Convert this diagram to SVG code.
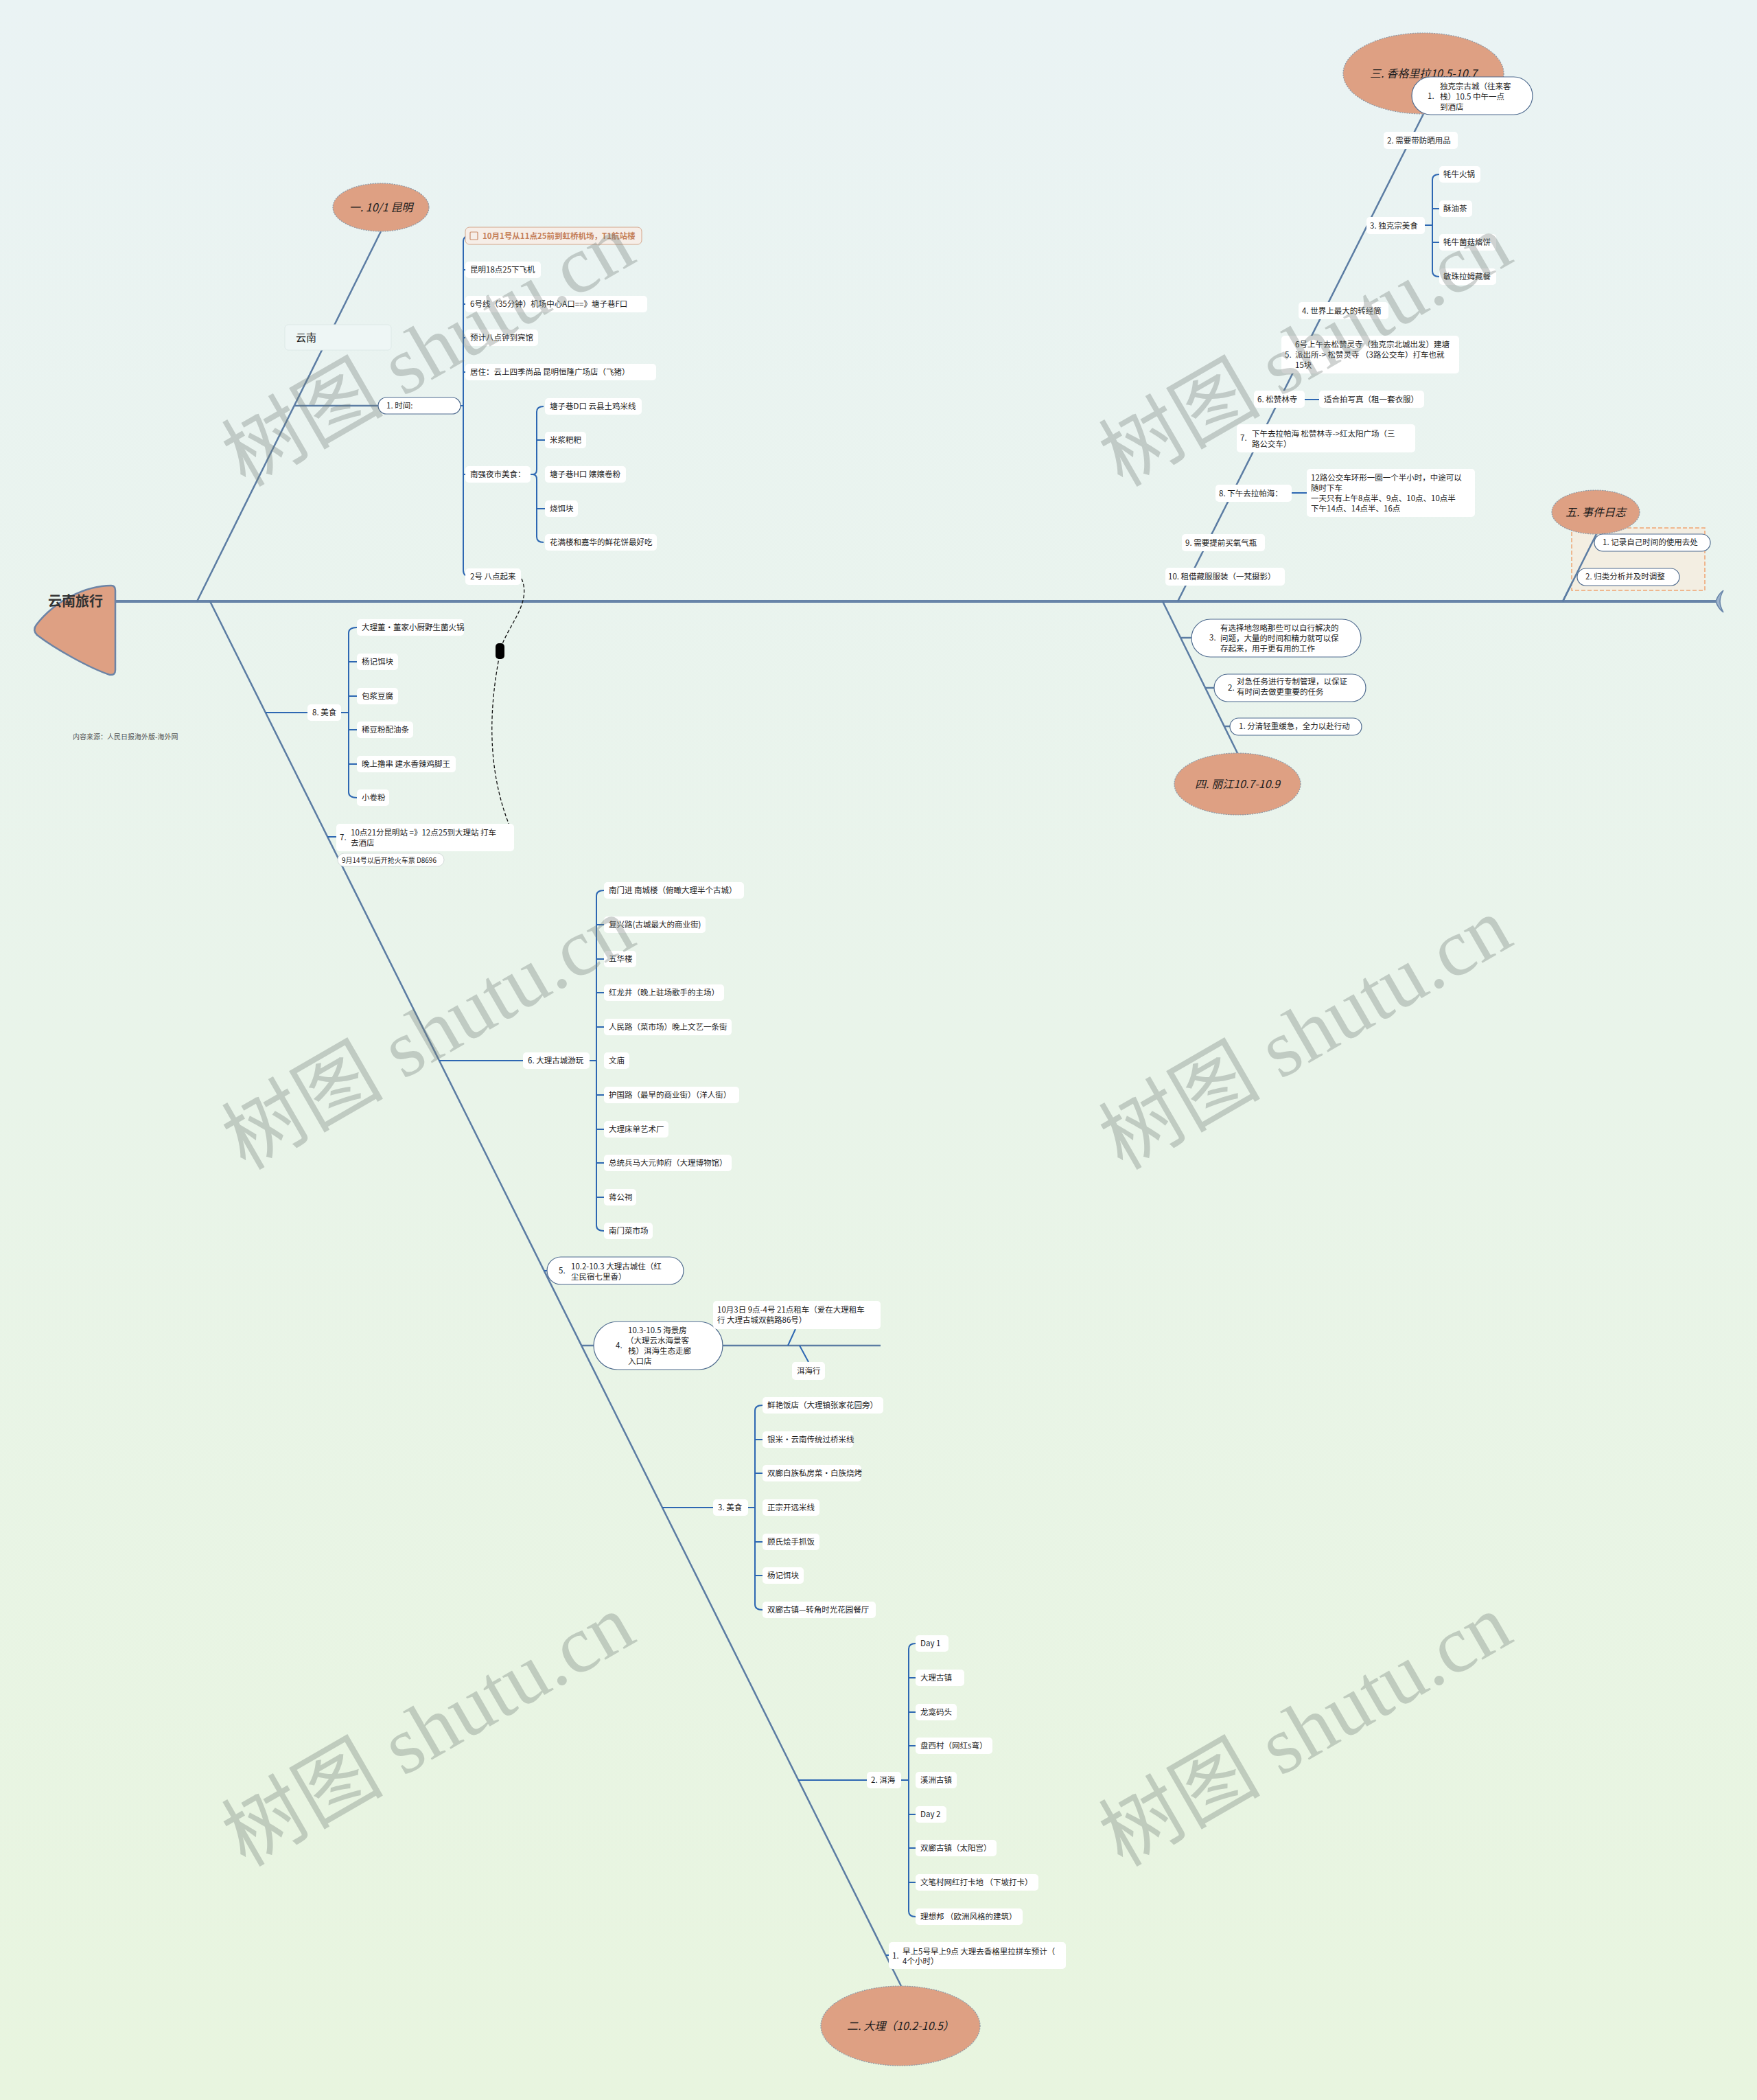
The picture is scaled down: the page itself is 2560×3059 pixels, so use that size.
<svg xmlns="http://www.w3.org/2000/svg" width="2560" height="3059" viewBox="0 0 2560 3059">
<defs>
<linearGradient id="bg" x1="0" y1="0" x2="0" y2="1">
<stop offset="0" stop-color="#eaf3f4"/>
<stop offset="1" stop-color="#e8f5df"/>
</linearGradient>
<marker id="arr" viewBox="0 0 10 10" refX="8" refY="5" markerWidth="7" markerHeight="7" orient="auto">
<path d="M0 1 L9 5 L0 9 Z" fill="#111"/>
</marker>
<style>
.bone{stroke:#5b7ca3;stroke-width:2.5;fill:none}
.br{stroke:#2d67b2;stroke-width:2;fill:none}
.box{fill:#ffffff}
.pill{fill:#ffffff;stroke:#4f6b8f;stroke-width:1.2}
.ell{fill:#dea083;stroke:#8d99a6;stroke-width:1.2;stroke-dasharray:2 1.5}
.t{font-family:"Noto Sans CJK SC","Noto Sans",sans-serif;font-size:11.5px;fill:#1c1c1c}
.et{font-family:"Noto Sans CJK SC","Noto Sans",sans-serif;font-size:16px;font-style:italic;fill:#1c1c1c;text-anchor:middle}
.wm{font-family:"Liberation Serif","Noto Sans CJK SC",serif;font-size:118px;fill:#6f7a75;opacity:0.33;text-anchor:middle}
</style>
</defs>
<rect x="0" y="0" width="2560" height="3059" fill="url(#bg)"/>

<g id="connectors">
<!-- spine -->
<path d="M168 876 H2502" stroke="#6784a8" stroke-width="4" fill="none"/>
<path d="M2500 876 Q2503 866 2511 860 Q2506 869 2506 876 Q2506 883 2511 892 Q2503 886 2500 876 Z" fill="#9cb2cc" stroke="#6784a8" stroke-width="1.5"/>
<!-- bones -->
<path class="bone" d="M555 337 L287 876"/>
<path class="bone" d="M306 876 L1313 2893"/>
<path class="bone" d="M2074 166 L1716 876"/>
<path class="bone" d="M1694 876 L1803 1097"/>
<path class="bone" d="M2277 876 L2326 778"/>
<!-- Kunming -->
<path class="bone" d="M428 591 H551"/>
<path class="br" d="M671 591 H675 M686 343 Q675 343 675 352 V831 Q675 840 686 840 M675 393 H678 M675 443 H678 M675 492 H678 M675 542 H678 M675 691 H678"/>
<path class="br" d="M773 691 H777 M792 592 Q782 592 782 600 V684 Q782 691 776 691 Q782 691 782 698 V782 Q782 790 792 790 M782 641 H794 M782 741 H794"/>
<!-- Dali -->
<path class="br" d="M387 1038 H448 M497 1038 H508 M520 914 Q508 914 508 922 V1154 Q508 1162 520 1162 M508 964 H520 M508 1014 H520 M508 1063 H520 M508 1113 H520"/>
<path class="br" d="M477 1219 H490"/>
<path class="br" d="M640 1545 H762 M859 1545 H869 M880 1297 Q869 1297 869 1305 V1785 Q869 1793 880 1793 M869 1347 H880 M869 1397 H880 M869 1446 H880 M869 1496 H880 M869 1595 H880 M869 1645 H880 M869 1694 H880 M869 1744 H880"/>
<path class="br" d="M793 1851 H797"/>
<path class="bone" d="M847 1960 H865 M1053 1960 H1283"/>
<path class="br" d="M1148 1960 L1159 1936 M1165 1960 L1178 1984"/>
<path class="br" d="M965 2196 H1039 M1090 2196 H1100 M1111 2047 Q1100 2047 1100 2055 V2337 Q1100 2345 1111 2345 M1100 2097 H1111 M1100 2146 H1111 M1100 2246 H1111 M1100 2295 H1111"/>
<path class="br" d="M1163 2593 H1263 M1313 2593 H1324 M1334 2394 Q1324 2394 1324 2402 V2784 Q1324 2792 1334 2792 M1324 2444 H1334 M1324 2494 H1334 M1324 2543 H1334 M1324 2643 H1334 M1324 2692 H1334 M1324 2742 H1334"/>
<path class="br" d="M1291 2848 H1296"/>
<!-- Shangri-La -->
<path class="br" d="M2076 328 H2087 M2097 254 Q2087 254 2087 262 V395 Q2087 403 2097 403 M2087 304 H2097 M2087 353 H2097"/>
<path class="br" d="M1901 582 H1922 M1882 718 H1904"/>
<!-- Lijiang -->
<path class="bone" d="M1720 929 H1736 M1756 1002 H1769 M1783 1058 H1792"/>
<!-- relationship -->
<path d="M760 843 C776 880 736 915 729 948 C719 1000 700 1110 748 1216" fill="none" stroke="#111" stroke-width="1.3" stroke-dasharray="5 3" marker-end="url(#arr)"/>
<rect x="722" y="937" width="13" height="23" rx="5" fill="#000"/>
</g>

<g id="root">
<path d="M162 853 Q168 853 168 860 L168 976 Q168 984 160 983 C130 973 80 945 54 925 Q47 918 53 910 C80 875 125 853 162 853 Z" fill="#dea083" stroke="#6c84a6" stroke-width="2.5"/>
<text x="70" y="883" font-family="Noto Sans CJK SC,sans-serif" font-size="20" font-weight="bold" fill="#333">云南旅行</text>
</g>
<text class="t" x="106" y="1077" font-size="10" style="font-size:10px;fill:#555">内容来源：人民日报海外版-海外网</text>

<g id="kunming">
<ellipse class="ell" cx="555" cy="302" rx="70" ry="35"/>
<text class="et" x="555" y="308">一. 10/1 昆明</text>
<rect x="415" y="473" width="155" height="37" rx="5" fill="#eef6f5" stroke="#dde9e7"/>
<text class="t" x="431" y="497" style="font-size:15px">云南</text>
<rect class="pill" x="551" y="579" width="120" height="24" rx="12"/>
<text class="t" x="563" y="595">1.  时间:</text>
<rect x="678" y="331" width="257" height="25" rx="6" fill="#f6eee8" stroke="#d4a58a"/>
<rect x="685" y="338" width="11" height="11" rx="1" fill="none" stroke="#c98b68" stroke-width="1.2"/>
<text class="t" x="703" y="348" style="fill:#c5805a;font-weight:bold">10月1号从11点25前到虹桥机场，T1航站楼</text>
<rect class="box" x="678" y="381" width="110" height="24" rx="5"/>
<text class="t" x="685" y="397">昆明18点25下飞机</text>
<rect class="box" x="678" y="431" width="265" height="24" rx="5"/>
<text class="t" x="685" y="447">6号线（35分钟）机场中心A口==》塘子巷F口</text>
<rect class="box" x="678" y="480" width="106" height="24" rx="5"/>
<text class="t" x="685" y="496">预计八点钟到宾馆</text>
<rect class="box" x="678" y="530" width="278" height="24" rx="5"/>
<text class="t" x="685" y="546">居住：云上四季尚品 昆明恒隆广场店（飞猪）</text>
<rect class="box" x="678" y="679" width="95" height="24" rx="5"/>
<text class="t" x="685" y="695">南强夜市美食：</text>
<rect class="box" x="678" y="828" width="81" height="24" rx="5"/>
<text class="t" x="685" y="844">2号 八点起来</text>
<rect class="box" x="794" y="580" width="141" height="24" rx="5"/>
<text class="t" x="801" y="596">塘子巷D口 云县土鸡米线</text>
<rect class="box" x="794" y="629" width="60" height="24" rx="5"/>
<text class="t" x="801" y="645">米浆粑粑</text>
<rect class="box" x="794" y="679" width="118" height="24" rx="5"/>
<text class="t" x="801" y="695">塘子巷H口 嬢嬢卷粉</text>
<rect class="box" x="794" y="729" width="48" height="24" rx="5"/>
<text class="t" x="801" y="745">烧饵块</text>
<rect class="box" x="794" y="778" width="163" height="24" rx="5"/>
<text class="t" x="801" y="794">花满楼和嘉华的鲜花饼最好吃</text>
</g>

<g id="dali">
<ellipse class="ell" cx="1312" cy="2951" rx="116" ry="58"/>
<text class="et" x="1312" y="2957">二. 大理（10.2-10.5）</text>
<rect class="box" x="448" y="1026" width="49" height="24" rx="5"/>
<text class="t" x="455" y="1042">8.  美食</text>
<rect class="box" x="520" y="902" width="156" height="24" rx="5"/>
<text class="t" x="527" y="918">大理董·董家小厨野生菌火锅</text>
<rect class="box" x="520" y="952" width="60" height="24" rx="5"/>
<text class="t" x="527" y="968">杨记饵块</text>
<rect class="box" x="520" y="1002" width="60" height="24" rx="5"/>
<text class="t" x="527" y="1018">包浆豆腐</text>
<rect class="box" x="520" y="1051" width="82" height="24" rx="5"/>
<text class="t" x="527" y="1067">稀豆粉配油条</text>
<rect class="box" x="520" y="1101" width="144" height="24" rx="5"/>
<text class="t" x="527" y="1117">晚上撸串 建水香辣鸡脚王</text>
<rect class="box" x="520" y="1150" width="47" height="24" rx="5"/>
<text class="t" x="527" y="1166">小卷粉</text>

<rect class="box" x="490" y="1200" width="259" height="40" rx="5"/>
<text class="t" x="495" y="1224">7.</text>
<text class="t" x="511" y="1217">10点21分昆明站 =》12点25到大理站  打车</text>
<text class="t" x="511" y="1232">去酒店</text>
<rect x="492" y="1243" width="155" height="19" rx="9.5" fill="#ffffff" stroke="#d3dad9"/>
<text class="t" x="498" y="1257" style="font-size:10px">9月14号以后开抢火车票  D8696</text>

<rect class="box" x="762" y="1533" width="97" height="24" rx="5"/>
<text class="t" x="769" y="1549">6.  大理古城游玩</text>
<rect class="box" x="880" y="1285" width="204" height="24" rx="5"/>
<text class="t" x="887" y="1301">南门进  南城楼（俯瞰大理半个古城）</text>
<rect class="box" x="880" y="1335" width="148" height="24" rx="5"/>
<text class="t" x="887" y="1351">复兴路(古城最大的商业街)</text>
<rect class="box" x="880" y="1385" width="47" height="24" rx="5"/>
<text class="t" x="887" y="1401">五华楼</text>
<rect class="box" x="880" y="1434" width="175" height="24" rx="5"/>
<text class="t" x="887" y="1450">红龙井（晚上驻场歌手的主场）</text>
<rect class="box" x="880" y="1484" width="186" height="24" rx="5"/>
<text class="t" x="887" y="1500">人民路（菜市场）晚上文艺一条街</text>
<rect class="box" x="880" y="1533" width="37" height="24" rx="5"/>
<text class="t" x="887" y="1549">文庙</text>
<rect class="box" x="880" y="1583" width="197" height="24" rx="5"/>
<text class="t" x="887" y="1599">护国路（最早的商业街）（洋人街）</text>
<rect class="box" x="880" y="1633" width="94" height="24" rx="5"/>
<text class="t" x="887" y="1649">大理床单艺术厂</text>
<rect class="box" x="880" y="1682" width="186" height="24" rx="5"/>
<text class="t" x="887" y="1698">总统兵马大元帅府（大理博物馆）</text>
<rect class="box" x="880" y="1732" width="47" height="24" rx="5"/>
<text class="t" x="887" y="1748">蒋公祠</text>
<rect class="box" x="880" y="1781" width="71" height="24" rx="5"/>
<text class="t" x="887" y="1797">南门菜市场</text>

<rect class="pill" x="797" y="1831" width="199" height="40" rx="20"/>
<text class="t" x="814" y="1855">5.</text>
<text class="t" x="832" y="1849">10.2-10.3  大理古城住（红</text>
<text class="t" x="832" y="1864">尘民宿七里香）</text>

<rect class="pill" x="865" y="1925" width="188" height="70" rx="35"/>
<text class="t" x="897" y="1964">4.</text>
<text class="t" x="915" y="1942">10.3-10.5 海景房</text>
<text class="t" x="912" y="1957">（大理云水海景客</text>
<text class="t" x="915" y="1972">栈）洱海生态走廊</text>
<text class="t" x="915" y="1987">入口店</text>
<rect class="box" x="1039" y="1895" width="244" height="41" rx="5"/>
<text class="t" x="1045" y="1912">10月3日 9点-4号 21点租车（爱在大理租车</text>
<text class="t" x="1045" y="1927">行 大理古城双鹤路86号）</text>
<rect class="box" x="1154" y="1984" width="48" height="26" rx="5"/>
<text class="t" x="1161" y="2001">洱海行</text>

<rect class="box" x="1039" y="2184" width="51" height="24" rx="5"/>
<text class="t" x="1046" y="2200">3.  美食</text>
<rect class="box" x="1111" y="2035" width="176" height="24" rx="5"/>
<text class="t" x="1118" y="2051">鲜艳饭店（大理镇张家花园旁）</text>
<rect class="box" x="1111" y="2085" width="132" height="24" rx="5"/>
<text class="t" x="1118" y="2101">银米·云南传统过桥米线</text>
<rect class="box" x="1111" y="2134" width="144" height="24" rx="5"/>
<text class="t" x="1118" y="2150">双廊白族私房菜·白族烧烤</text>
<rect class="box" x="1111" y="2184" width="83" height="24" rx="5"/>
<text class="t" x="1118" y="2200">正宗开远米线</text>
<rect class="box" x="1111" y="2234" width="83" height="24" rx="5"/>
<text class="t" x="1118" y="2250">顾氏烩手抓饭</text>
<rect class="box" x="1111" y="2283" width="60" height="24" rx="5"/>
<text class="t" x="1118" y="2299">杨记饵块</text>
<rect class="box" x="1111" y="2333" width="165" height="24" rx="5"/>
<text class="t" x="1118" y="2349">双廊古镇—转角时光花园餐厅</text>

<rect class="box" x="1263" y="2581" width="50" height="24" rx="5"/>
<text class="t" x="1269" y="2597">2.  洱海</text>
<rect class="box" x="1334" y="2382" width="48" height="24" rx="5"/>
<text class="t" x="1341" y="2398">Day 1</text>
<rect class="box" x="1334" y="2432" width="71" height="24" rx="5"/>
<text class="t" x="1341" y="2448">大理古镇</text>
<rect class="box" x="1334" y="2482" width="60" height="24" rx="5"/>
<text class="t" x="1341" y="2498">龙龛码头</text>
<rect class="box" x="1334" y="2531" width="112" height="24" rx="5"/>
<text class="t" x="1341" y="2547">盘西村（网红s弯）</text>
<rect class="box" x="1334" y="2581" width="60" height="24" rx="5"/>
<text class="t" x="1341" y="2597">溪洲古镇</text>
<rect class="box" x="1334" y="2631" width="45" height="24" rx="5"/>
<text class="t" x="1341" y="2647">Day 2</text>
<rect class="box" x="1334" y="2680" width="118" height="24" rx="5"/>
<text class="t" x="1341" y="2696">双廊古镇（太阳宫）</text>
<rect class="box" x="1334" y="2730" width="179" height="24" rx="5"/>
<text class="t" x="1341" y="2746">文笔村网红打卡地 （下坡打卡）</text>
<rect class="box" x="1334" y="2780" width="156" height="24" rx="5"/>
<text class="t" x="1341" y="2796">理想邦 （欧洲风格的建筑）</text>

<rect class="box" x="1295" y="2829" width="258" height="39" rx="5"/>
<text class="t" x="1300" y="2853">1.</text>
<text class="t" x="1315" y="2847">早上5号早上9点 大理去香格里拉拼车预计（</text>
<text class="t" x="1315" y="2861">4个小时）</text>
</g>

<g id="shangrila">
<ellipse class="ell" cx="2074" cy="107" rx="117" ry="59"/>
<text class="et" x="2074" y="113">三. 香格里拉10.5-10.7</text>
<rect class="pill" x="2057" y="112" width="176" height="55" rx="27.5"/>
<text class="t" x="2080" y="144">1.</text>
<text class="t" x="2098" y="130">独克宗古城（往来客</text>
<text class="t" x="2098" y="145">栈）10.5  中午一点</text>
<text class="t" x="2098" y="160">到酒店</text>
<rect class="box" x="2016" y="192" width="108" height="25" rx="5"/>
<text class="t" x="2021" y="209">2.  需要带防晒用品</text>
<rect class="box" x="1991" y="316" width="85" height="25" rx="5"/>
<text class="t" x="1996" y="333">3.  独克宗美食</text>
<rect class="box" x="2097" y="242" width="60" height="24" rx="5"/>
<text class="t" x="2103" y="258">牦牛火锅</text>
<rect class="box" x="2097" y="292" width="48" height="24" rx="5"/>
<text class="t" x="2103" y="308">酥油茶</text>
<rect class="box" x="2097" y="341" width="83" height="24" rx="5"/>
<text class="t" x="2103" y="357">牦牛菌菇烙饼</text>
<rect class="box" x="2097" y="391" width="83" height="24" rx="5"/>
<text class="t" x="2103" y="407">敏珠拉姆藏餐</text>
<rect class="box" x="1892" y="440" width="131" height="25" rx="5"/>
<text class="t" x="1897" y="457">4.  世界上最大的转经筒</text>
<rect class="box" x="1867" y="489" width="259" height="55" rx="5"/>
<text class="t" x="1872" y="521">5.</text>
<text class="t" x="1887" y="506">6号上午去松赞灵寺（独克宗北城出发）建塘</text>
<text class="t" x="1887" y="521">派出所-&gt; 松赞灵寺  （3路公交车）打车也就</text>
<text class="t" x="1887" y="536">15块</text>
<rect class="box" x="1827" y="569" width="74" height="25" rx="5"/>
<text class="t" x="1832" y="586">6.  松赞林寺</text>
<rect class="box" x="1922" y="569" width="153" height="25" rx="5"/>
<text class="t" x="1929" y="586">适合拍写真（租一套衣服）</text>
<rect class="box" x="1802" y="618" width="260" height="41" rx="5"/>
<text class="t" x="1807" y="642">7.</text>
<text class="t" x="1824" y="636">下午去拉帕海   松赞林寺-&gt;红太阳广场（三</text>
<text class="t" x="1824" y="651">路公交车）</text>
<rect class="box" x="1771" y="706" width="111" height="25" rx="5"/>
<text class="t" x="1776" y="723">8.  下午去拉帕海：</text>
<rect class="box" x="1904" y="683" width="245" height="70" rx="5"/>
<text class="t" x="1910" y="700">12路公交车环形一圈一个半小时，中途可以</text>
<text class="t" x="1910" y="715">随时下车</text>
<text class="t" x="1910" y="730">一天只有上午8点半、9点、10点、10点半</text>
<text class="t" x="1910" y="745">下午14点、14点半、16点</text>
<rect class="box" x="1722" y="778" width="121" height="25" rx="5"/>
<text class="t" x="1727" y="795">9.  需要提前买氧气瓶</text>
<rect class="box" x="1698" y="827" width="174" height="26" rx="5"/>
<text class="t" x="1702" y="844">10.  租借藏服服装（一梵摄影）</text>
</g>

<g id="lijiang">
<ellipse class="ell" cx="1803" cy="1142" rx="92" ry="45"/>
<text class="et" x="1803" y="1148">四. 丽江10.7-10.9</text>
<rect class="pill" x="1736" y="902" width="247" height="55" rx="27.5"/>
<text class="t" x="1762" y="933">3.</text>
<text class="t" x="1778" y="919">有选择地忽略那些可以自行解决的</text>
<text class="t" x="1778" y="934">问题，大量的时间和精力就可以保</text>
<text class="t" x="1778" y="949">存起来，用于更有用的工作</text>
<rect class="pill" x="1769" y="982" width="221" height="40" rx="20"/>
<text class="t" x="1789" y="1006">2.</text>
<text class="t" x="1802" y="997">对急任务进行专制管理，以保证</text>
<text class="t" x="1802" y="1012">有时间去做更重要的任务</text>
<rect class="pill" x="1792" y="1046" width="192" height="25" rx="12.5"/>
<text class="t" x="1805" y="1062">1.  分清轻重缓急，全力以赴行动</text>
</g>

<g id="eventlog">
<rect x="2290" y="769" width="194" height="91" fill="#f3eee2" stroke="#f0a472" stroke-width="1.5" stroke-dasharray="6 3"/>
<path class="bone" d="M2277 876 L2326 778"/>
<ellipse class="ell" cx="2325" cy="746" rx="64" ry="32"/>
<text class="et" x="2325" y="752">五. 事件日志</text>
<rect class="pill" x="2323" y="778" width="169" height="25" rx="12.5"/>
<text class="t" x="2335" y="794">1.  记录自己时间的使用去处</text>
<rect class="pill" x="2298" y="828" width="149" height="25" rx="12.5"/>
<text class="t" x="2310" y="844">2.  归类分析并及时调整</text>
</g>

<g id="watermarks">
<text class="wm" transform="translate(644 545) rotate(-30)">树图 shutu.cn</text>
<text class="wm" transform="translate(1922 545) rotate(-30)">树图 shutu.cn</text>
<text class="wm" transform="translate(644 1540) rotate(-30)">树图 shutu.cn</text>
<text class="wm" transform="translate(1922 1540) rotate(-30)">树图 shutu.cn</text>
<text class="wm" transform="translate(644 2555) rotate(-30)">树图 shutu.cn</text>
<text class="wm" transform="translate(1922 2555) rotate(-30)">树图 shutu.cn</text>
</g>
</svg>
